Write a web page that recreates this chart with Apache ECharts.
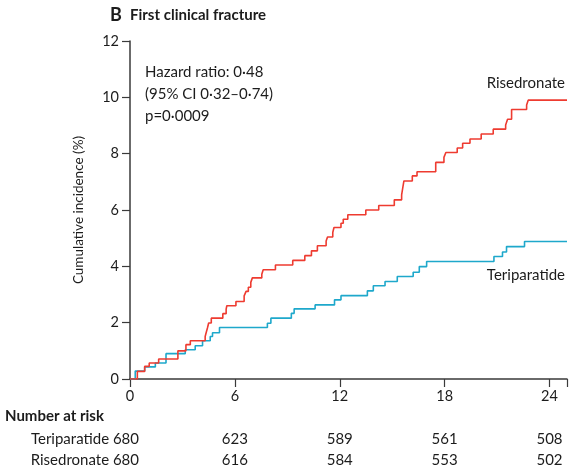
<!DOCTYPE html>
<html>
<head>
<meta charset="utf-8">
<script src="https://cdn.jsdelivr.net/npm/echarts@6/dist/echarts.min.js"></script>
<style>
html,body{margin:0;padding:0;background:#fff;}
#c{width:578px;height:476px;}
</style>
</head>
<body>
<div id="c"></div>
<script>
// Risedronate: [month, cumulative incidence %]
var risedronate = [
  [0,0],[0.42,0.27],[0.84,0.45],[1.10,0.57],[1.64,0.71],[2.74,1.0],[3.2,1.22],[3.45,1.36],
  [4.30,1.51],[4.36,1.65],[4.43,1.81],[4.50,1.99],[4.65,2.16],[5.31,2.32],[5.50,2.48],[5.54,2.60],
  [6.06,2.75],[6.53,2.95],[6.64,3.11],[6.77,3.26],[6.91,3.43],[7.00,3.59],[7.54,3.72],[7.62,3.88],
  [8.32,4.05],[9.31,4.21],[10.0,4.38],[10.38,4.55],[10.72,4.73],[11.22,4.90],[11.30,5.04],
  [11.6,5.20],[11.67,5.38],[12.07,5.53],[12.2,5.67],[12.46,5.83],[13.49,6.0],[14.23,6.16],
  [15.12,6.36],[15.54,6.54],[15.62,6.85],[15.67,7.03],[16.15,7.21],[16.42,7.36],[17.49,7.69],
  [17.96,7.87],[18.07,8.04],[18.72,8.20],[19.03,8.37],[19.45,8.52],[20.09,8.70],[20.78,8.87],
  [21.49,9.02],[21.6,9.22],[21.83,9.57],[22.69,9.73],[22.78,9.90],[25,9.90]
];
// Teriparatide: [month, cumulative incidence %]
var teriparatide = [
  [0,0],[0.30,0.28],[0.84,0.43],[1.45,0.57],[2.06,0.90],[3.16,1.04],[3.73,1.18],[4.15,1.36],
  [4.59,1.51],[4.72,1.64],[5.12,1.83],[7.86,1.98],[8.06,2.16],[9.23,2.33],[9.39,2.49],
  [10.59,2.63],[11.70,2.81],[12.07,2.96],[13.58,3.13],[13.92,3.31],[14.59,3.46],[15.29,3.64],
  [16.2,3.79],[16.55,3.99],[16.97,4.17],[20.82,4.35],[21.31,4.51],[21.54,4.70],[22.57,4.88],[25,4.88]
];
var riskMonths = [0, 6, 12, 18, 24];
var riskTeriparatide = [680, 623, 589, 561, 508];
var riskRisedronate = [680, 616, 584, 553, 502];
var annotation = ['Hazard ratio: 0·48', '(95% CI 0·32–0·74)', 'p=0·0009'];

var FONT = 'Lato';
var RED = '#ee3b30';
var BLUE = '#1ea8cb';
var AX = '#3a3a3a';
var TXT = '#1c1c1c';

var chart = echarts.init(document.getElementById('c'), null, {renderer:'canvas'});
var option = {
  animation: false,
  backgroundColor: '#fff',
  grid: {left: 130, right: 11, top: 41, bottom: 97, containLabel: false},
  xAxis: {
    type: 'value', min: 0, max: 25, interval: 6,
    axisLine: {show: true, onZero: false, lineStyle: {color: AX, width: 1.5}},
    axisTick: {show: true, length: 8, lineStyle: {color: AX, width: 1.2}},
    axisLabel: {color: TXT, fontFamily: FONT, fontSize: 14.5, margin: 10,
      formatter: function(v){ return (v % 6 === 0 && v <= 24) ? String(v) : ''; }},
    splitLine: {show: false}
  },
  yAxis: {
    type: 'value', min: 0, max: 12, interval: 2,
    name: 'Cumulative incidence (%)', nameLocation: 'middle', nameGap: 44,
    nameTextStyle: {color: TXT, fontFamily: FONT, fontSize: 13.5},
    axisLine: {show: true, lineStyle: {color: AX, width: 1.5}},
    axisTick: {show: true, length: 8, lineStyle: {color: AX, width: 1.2}},
    axisLabel: {color: TXT, fontFamily: FONT, fontSize: 14.5, margin: 11},
    splitLine: {show: false}
  },
  series: [
    {name: 'Teriparatide', type: 'line', step: 'end', data: teriparatide, showSymbol: false,
     lineStyle: {color: BLUE, width: 1.6}, z: 3},
    {name: 'Risedronate', type: 'line', step: 'end', data: risedronate, showSymbol: false,
     lineStyle: {color: RED, width: 1.6}, z: 4}
  ]
};
chart.setOption(option);

var g = [];
function txt(x, y, s, opts) {
  opts = opts || {};
  g.push({type: 'text', x: x, y: y, z: 10, style: {
    text: s, fill: opts.fill || TXT, font: (opts.weight || 'normal') + ' ' + (opts.size || 14) + 'px ' + FONT,
    textAlign: opts.align || 'left', textVerticalAlign: 'middle'
  }});
}
txt(110, 15, 'B', {weight: 'bold', size: 18});
txt(130, 15, 'First clinical fracture', {weight: 'bold', size: 15});
for (var i = 0; i < annotation.length; i++) txt(145, 72 + i * 22, annotation[i], {size: 15});
txt(565, 83, 'Risedronate', {align: 'right', size: 15});
txt(565, 275, 'Teriparatide', {align: 'right', size: 15});
txt(5, 416, 'Number at risk', {weight: 'bold', size: 15});
var row1 = 439, row2 = 460;
for (var k = 0; k < riskMonths.length; k++) {
  var px = chart.convertToPixel({xAxisIndex: 0}, riskMonths[k]);
  if (k === 0) {
    txt(139, row1, 'Teriparatide ' + riskTeriparatide[k], {align: 'right', size: 15});
    txt(139, row2, 'Risedronate ' + riskRisedronate[k], {align: 'right', size: 15});
  } else {
    txt(px, row1, String(riskTeriparatide[k]), {align: 'center', size: 15});
    txt(px, row2, String(riskRisedronate[k]), {align: 'center', size: 15});
  }
}
chart.setOption({graphic: g});
</script>
</body>
</html>
